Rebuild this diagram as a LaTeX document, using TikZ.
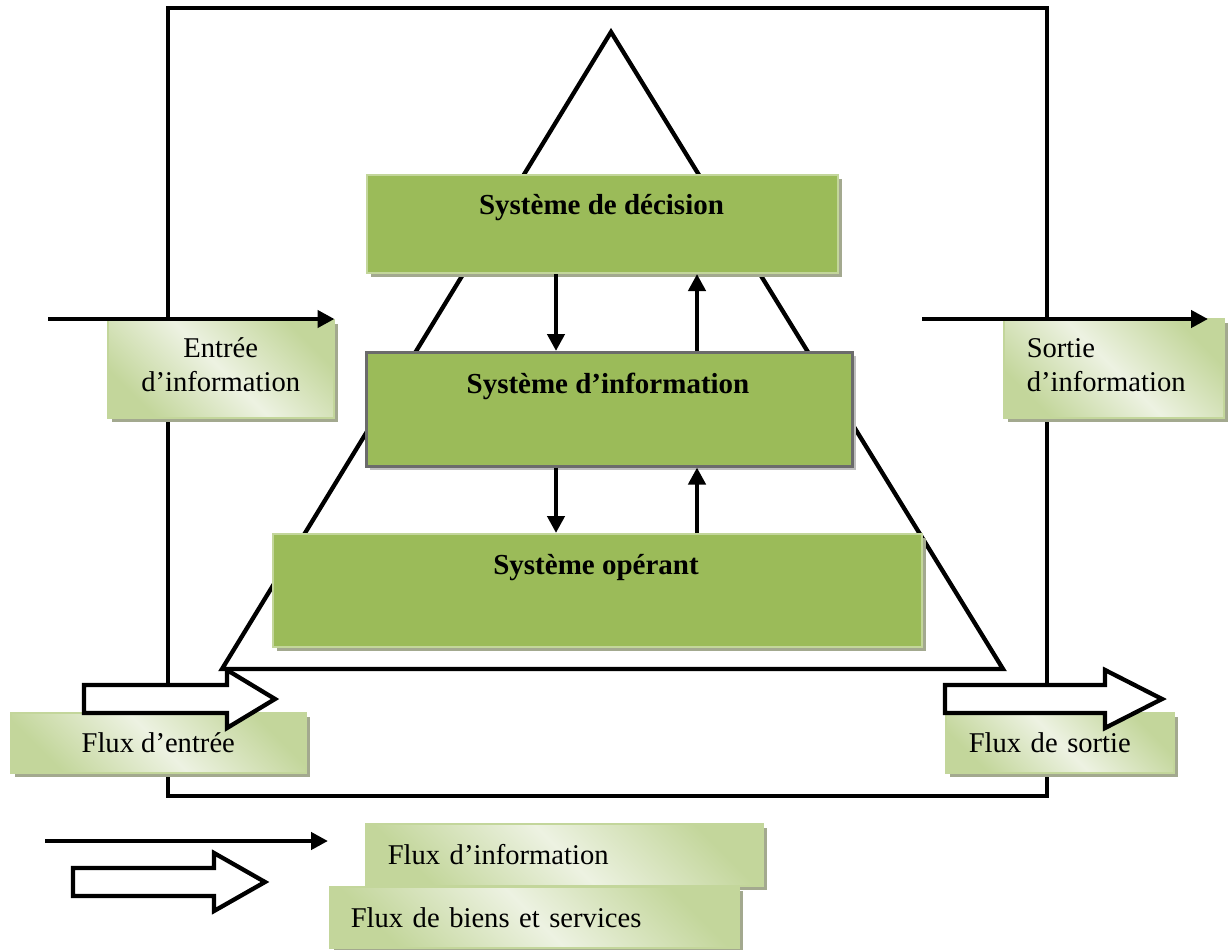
\documentclass[tikz,border=0pt]{standalone}
\usepackage{fontspec}
\setmainfont{Liberation Serif}
\usetikzlibrary{arrows.meta,shadows}

\definecolor{sysgreen}{HTML}{9BBB59}
\definecolor{edgegreen}{HTML}{C3D69B}
\definecolor{paleg}{HTML}{EDF2E2}
\definecolor{shadowc}{RGB}{163,169,143}
\definecolor{greyshadow}{RGB}{190,190,190}
\definecolor{infoedge}{HTML}{6B6B6B}

% block arrow for the flow of goods: x of tail, x of head base, x of tip, y of axis
\newcommand{\goodsarrow}[4]{%
  \draw[goodsflow] (#1,{#4-14}) -- (#2,{#4-14}) -- (#2,{#4-29}) -- (#3,#4)
    -- (#2,{#4+29}) -- (#2,{#4+14}) -- (#1,{#4+14}) -- cycle;}

\tikzset{
  sysbox/.style={rectangle, fill=sysgreen, draw=edgegreen, line width=2pt,
    inner sep=0pt, anchor=north west,
    drop shadow={shadow xshift=4pt, shadow yshift=-4pt, fill=shadowc, opacity=1}},
  systext/.style={font=\fontsize{29}{34}\selectfont\bfseries, inner sep=0pt},
  tagbox/.style={rectangle, draw=edgegreen, line width=1.5pt,
    top color=edgegreen, bottom color=edgegreen, middle color=paleg,
    shading angle=-45, inner ysep=0pt, anchor=north west,
    font=\fontsize{28.6}{34}\selectfont,
    drop shadow={shadow xshift=4pt, shadow yshift=-4pt, fill=shadowc, opacity=1}},
  infoflow/.style={line width=4.3pt, -{Triangle[length=17pt,width=17pt]}},
  goodsflow/.style={draw=black, fill=white, line width=4.3pt, miter limit=10},
  frame/.style={draw=black, line width=4.3pt},
}

\begin{document}
\begin{tikzpicture}[x=1pt, y=-1pt]
  \useasboundingbox (0,0) rectangle (1229,950);
  \fill[white] (0,0) rectangle (1229,950);

  % enterprise boundary and pyramid
  \draw[frame] (168,8) rectangle (1047,796);
  \draw[frame, line join=miter] (611,32) -- (1003,669) -- (222,669) -- cycle;

  % the three subsystems
  \node[sysbox, minimum width=471pt, minimum height=98pt] (dec) at (366,174) {};
  \node[sysbox, draw=infoedge, line width=2.5pt, minimum width=486pt, minimum height=114pt,
        drop shadow={shadow xshift=4pt, shadow yshift=-4pt, fill=greyshadow, opacity=1}]
        (info) at (365,351) {};
  \node[sysbox, minimum width=649pt, minimum height=113pt] (oper) at (272,533) {};

  \node[systext] (dect) at (601.5,208) {Système de décision};
  \node[systext] (infot) at (608,386) {Système d’information};
  \node[systext] (opert) at (596,568) {Système opérant};

  % information exchanged between subsystems
  \coordinate (down) at (556,0);
  \coordinate (up) at (697,0);
  \draw[infoflow] (dec.south -| down) -- (info.north -| down);
  \draw[infoflow] (info.north -| up) -- (dec.south -| up);
  \draw[infoflow] (info.south -| down) -- (oper.north -| down);
  \draw[infoflow] (oper.north -| up) -- (info.south -| up);

  % inputs and outputs
  \node[tagbox, minimum width=226pt, minimum height=98pt, align=center] (ent) at (107,319)
    {Entrée\\d’information\rule[-9pt]{0pt}{0pt}};
  \node[tagbox, minimum height=99pt, inner xsep=23pt, text width=174pt, align=left] (sor) at (1003,318)
    {Sortie\\d’information\rule[-7pt]{0pt}{0pt}};
  \node[tagbox, minimum width=295pt, minimum height=60pt] (fe) at (10,712) {Flux d’entrée};
  \node[tagbox, minimum height=60pt, inner xsep=23pt, text width=182pt, align=left] (fs) at (945,712)
    {Flux de sortie};

  \coordinate (entin) at (48,319);
  \coordinate (sorin) at (922,319);
  \coordinate (sorout) at (1208,319);
  \draw[infoflow] (entin) -- (ent.north east);
  \draw[infoflow] (sorin) -- (sorout);

  \goodsarrow{84}{227}{275}{699}
  \goodsarrow{945}{1105}{1162}{699}

  % legend
  \node[tagbox, minimum height=62pt, inner xsep=22pt, text width=353pt, align=left] (leginfo) at (365,823)
    {Flux d’information};
  \node[tagbox, minimum height=61pt, inner xsep=21pt, text width=367pt, align=left] (leggoods) at (329,886)
    {Flux de biens et services};
  \coordinate (legin) at (45,841);
  \coordinate (legout) at (328,841);
  \draw[infoflow] (legin) -- (legout);
  \goodsarrow{73}{214}{265}{882}
\end{tikzpicture}
\end{document}
